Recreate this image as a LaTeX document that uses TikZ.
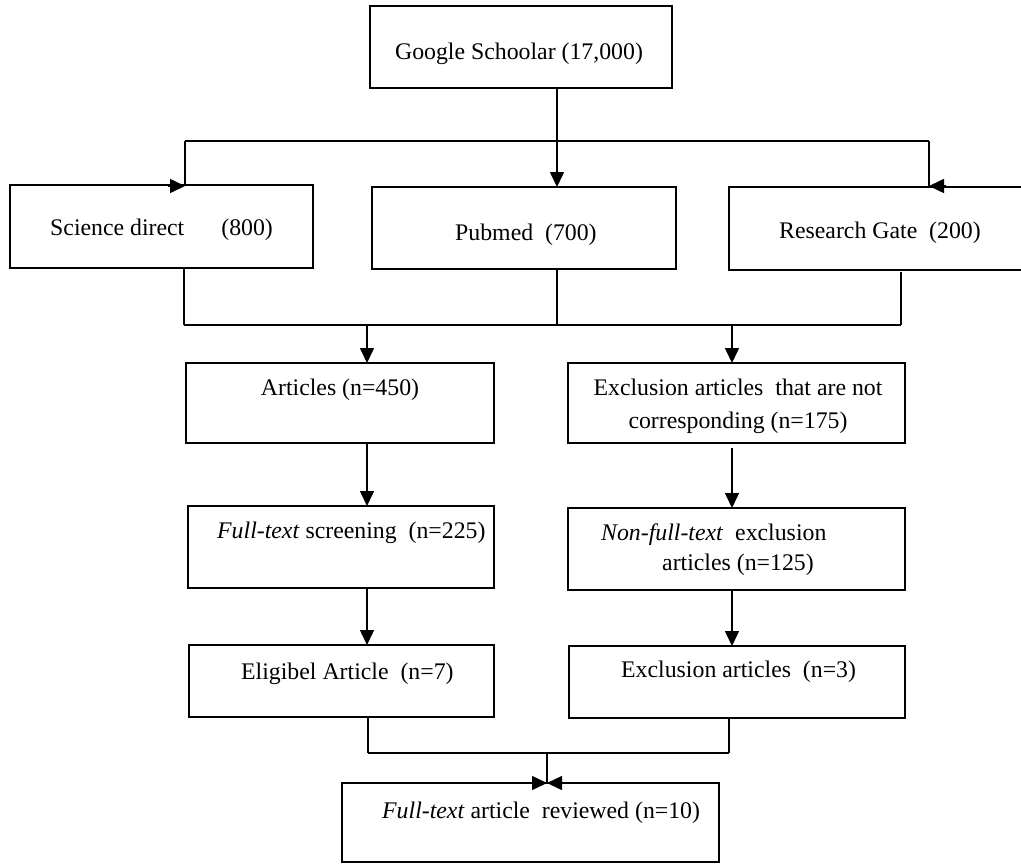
\documentclass[tikz,border=0pt]{standalone}
\usepackage{fontspec}
\setmainfont{Liberation Serif}
\usepackage{tikz}
\usetikzlibrary{positioning}
\usetikzlibrary{arrows.meta}
\pgfdeclarelayer{nodelayer}
\pgfdeclarelayer{edgelayer}
\pgfsetlayers{nodelayer,edgelayer,main}
\tikzset{
    none/.style = {inner sep=0pt},
    box/.style = {draw, line width=1.5pt, inner sep=0pt},
    lbl/.style = {inner sep=0pt, font=\fontsize{23.8pt}{28pt}\selectfont},
    line/.style = {line width=1.5pt},
    arrow/.style = {line width=1.5pt, -{Triangle[length=15pt, width=14pt]}}
}

\begin{document}
\begin{tikzpicture}[x=1pt, y=1pt]
    \useasboundingbox (0, 0) rectangle (1021, -863);
    \begin{pgfonlayer}{nodelayer}
        % boxes
        \node [style=box, minimum width=302, minimum height=82] (0) at (521, -47) {};
        \node [style=box, minimum width=303, minimum height=83] (1) at (161.5, -226.5) {};
        \node [style=box, minimum width=304, minimum height=82] (2) at (524, -228) {};
        \node [style=box, minimum width=311, minimum height=83] (3) at (884.5, -228.5) {};
        \node [style=box, minimum width=308, minimum height=80] (4) at (340, -403) {};
        \node [style=box, minimum width=337, minimum height=80] (5) at (736.5, -403) {};
        \node [style=box, minimum width=306, minimum height=82] (6) at (341, -547) {};
        \node [style=box, minimum width=337, minimum height=82] (7) at (736.5, -549) {};
        \node [style=box, minimum width=305, minimum height=72] (8) at (341.5, -681) {};
        \node [style=box, minimum width=336, minimum height=72] (9) at (737, -682) {};
        \node [style=box, minimum width=377, minimum height=79] (10) at (530.5, -822.5) {};
        % texts
        \node [style=lbl, anchor=base] (20) at (519, -59) {Google Schoolar (17,000)};
        \node [style=lbl, anchor=base west] (21) at (50, -235) {Science direct\hspace{37pt}(800)};
        \node [style=lbl, anchor=base west] (22) at (455, -240) {Pubmed~~(700)};
        \node [style=lbl, anchor=base west] (23) at (779, -238) {Research Gate~~(200)};
        \node [style=lbl, anchor=base] (24) at (340, -395) {Articles (n=450)};
        \node [style=lbl, anchor=base] (25) at (738, -395) {Exclusion articles~~that are not};
        \node [style=lbl, anchor=base] (26) at (738, -428) {corresponding (n=175)};
        \node [style=lbl, anchor=base west] (27) at (217, -538) {\textit{Full-text} screening~~(n=225)};
        \node [style=lbl, anchor=base west] (28) at (601, -540) {\textit{Non-full-text}~~exclusion};
        \node [style=lbl, anchor=base west] (29) at (662, -570) {articles (n=125)};
        \node [style=lbl, anchor=base west] (30) at (241, -679) {Eligibel Article~~(n=7)};
        \node [style=lbl, anchor=base west] (31) at (621, -677) {Exclusion articles~~(n=3)};
        \node [style=lbl, anchor=base west] (32) at (382, -818) {\textit{Full-text} article~~reviewed (n=10)};
        % connector points
        \node [style=none] (40) at (557, -88) {};
        \node [style=none] (41) at (557, -187) {};
        \node [style=none] (42) at (185, -141) {};
        \node [style=none] (43) at (929, -141) {};
        \node [style=none] (44) at (185, -186) {};
        \node [style=none] (45) at (929, -186) {};
        \node [style=none] (46) at (168, -186) {};
        \node [style=none] (47) at (946, -186) {};
        \node [style=none] (48) at (184, -268) {};
        \node [style=none] (49) at (184, -325) {};
        \node [style=none] (50) at (557, -269) {};
        \node [style=none] (51) at (557, -325) {};
        \node [style=none] (52) at (901, -272) {};
        \node [style=none] (53) at (901, -325) {};
        \node [style=none] (54) at (367, -325) {};
        \node [style=none] (55) at (367, -363) {};
        \node [style=none] (56) at (732, -325) {};
        \node [style=none] (57) at (732, -363) {};
        \node [style=none] (58) at (367, -443) {};
        \node [style=none] (59) at (367, -506) {};
        \node [style=none] (60) at (732, -448) {};
        \node [style=none] (61) at (732, -508) {};
        \node [style=none] (62) at (367, -588) {};
        \node [style=none] (63) at (367, -645) {};
        \node [style=none] (64) at (732, -590) {};
        \node [style=none] (65) at (732, -646) {};
        \node [style=none] (66) at (368, -717) {};
        \node [style=none] (67) at (368, -753) {};
        \node [style=none] (68) at (729, -718) {};
        \node [style=none] (69) at (729, -753) {};
        \node [style=none] (70) at (547, -753) {};
        \node [style=none] (71) at (547, -783) {};
        \node [style=none] (72) at (530, -783) {};
        \node [style=none] (73) at (564, -783) {};
    \end{pgfonlayer}
    \begin{pgfonlayer}{edgelayer}
        % top split
        \draw [style=arrow] (40.center) to (41.center);
        \draw [style=line] (42.center) to (43.center);
        \draw [style=line] (42.center) to (44.center);
        \draw [style=line] (43.center) to (45.center);
        \draw [style=arrow] (46.center) to (44.center);
        \draw [style=arrow] (47.center) to (45.center);
        % merge of the three sources
        \draw [style=line] (48.center) to (49.center);
        \draw [style=line] (50.center) to (51.center);
        \draw [style=line] (52.center) to (53.center);
        \draw [style=line] (49.center) to (53.center);
        \draw [style=arrow] (54.center) to (55.center);
        \draw [style=arrow] (56.center) to (57.center);
        % columns
        \draw [style=arrow] (58.center) to (59.center);
        \draw [style=arrow] (60.center) to (61.center);
        \draw [style=arrow] (62.center) to (63.center);
        \draw [style=arrow] (64.center) to (65.center);
        % final merge
        \draw [style=line] (66.center) to (67.center);
        \draw [style=line] (68.center) to (69.center);
        \draw [style=line] (67.center) to (69.center);
        \draw [line width=2.5pt] (70.center) to (71.center);
        \draw [style=arrow] (72.center) to (71.center);
        \draw [style=arrow] (73.center) to (71.center);
    \end{pgfonlayer}
\end{tikzpicture}
\end{document}
